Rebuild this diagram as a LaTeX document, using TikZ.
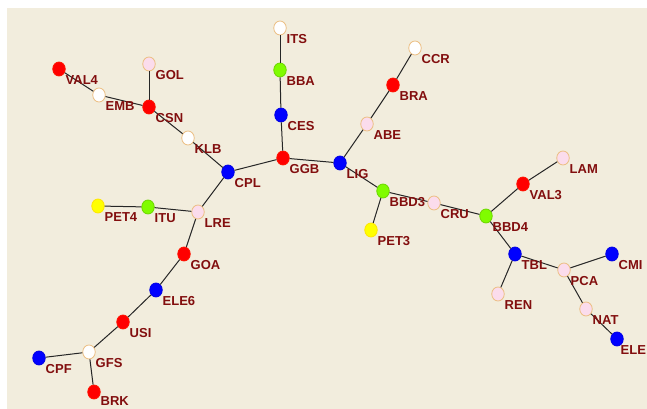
\documentclass[tikz,border=0pt]{standalone}
\usepackage{fontspec}
\setmainfont{Liberation Sans}
\usetikzlibrary{shapes.geometric}
\definecolor{bg}{RGB}{242,237,221}
\definecolor{lblc}{RGB}{130,14,14}
\definecolor{nred}{RGB}{255,0,0}
\definecolor{nblue}{RGB}{0,0,255}
\definecolor{ngreen}{RGB}{128,252,0}
\definecolor{nyellow}{RGB}{255,255,0}
\definecolor{npink}{RGB}{251,220,236}
\definecolor{rim}{RGB}{236,190,130}
\tikzset{
  vtx/.style={ellipse,minimum width=12.5pt,minimum height=14pt,inner sep=0pt,line width=0.8pt},
  vred/.style={vtx,fill=nred,draw=nred!85!orange},
  vblue/.style={vtx,fill=nblue,draw=nblue!90!black},
  vgreen/.style={vtx,fill=ngreen,draw=ngreen!85!black},
  vyellow/.style={vtx,fill=nyellow,draw=nyellow!80!orange},
  vpink/.style={vtx,fill=npink,draw=rim},
  vwhite/.style={vtx,fill=white,draw=rim},
  lbl/.style={anchor=base west,inner sep=0pt,text=lblc,font=\bfseries\fontsize{13}{14}\selectfont},
  edge/.style={draw=black!85,line width=1pt}
}
\begin{document}
\begin{tikzpicture}[x=1pt,y=1pt]
\useasboundingbox (0,0) rectangle (647,409);
\clip (0,0) rectangle (647,409);
\fill[white] (0,0) rectangle (647,409);
\fill[bg] (7,0) rectangle (647,401);
% nodes (y = 409 - pixel row)
\node[vred]    (VAL4) at (59,340) {};
\node[vwhite]  (EMB)  at (99,314) {};
\node[vpink]   (GOL)  at (149,345) {};
\node[vred]    (CSN)  at (149,302) {};
\node[vwhite]  (KLB)  at (188,271) {};
\node[vblue]   (CPL)  at (228,237) {};
\node[vwhite]  (ITS)  at (280,381) {};
\node[vgreen]  (BBA)  at (280,339) {};
\node[vblue]   (CES)  at (281,294) {};
\node[vred]    (GGB)  at (283,251) {};
\node[vwhite]  (CCR)  at (415,361) {};
\node[vred]    (BRA)  at (393,324) {};
\node[vpink]   (ABE)  at (367,285) {};
\node[vblue]   (LIG)  at (340,246) {};
\node[vgreen]  (BBD3) at (383,218) {};
\node[vyellow] (PET3) at (371,179) {};
\node[vpink]   (CRU)  at (434,206) {};
\node[vgreen]  (BBD4) at (486,193) {};
\node[vred]    (VAL3) at (523,225) {};
\node[vpink]   (LAM)  at (563,251) {};
\node[vblue]   (TBL)  at (515,155) {};
\node[vpink]   (REN)  at (498,115) {};
\node[vpink]   (PCA)  at (564,139) {};
\node[vblue]   (CMI)  at (612,155) {};
\node[vpink]   (NAT)  at (586,100) {};
\node[vblue]   (ELE)  at (617,70) {};
\node[vyellow] (PET4) at (98,203) {};
\node[vgreen]  (ITU)  at (148,202) {};
\node[vpink]   (LRE)  at (198,197) {};
\node[vred]    (GOA)  at (184,155) {};
\node[vblue]   (ELE6) at (156,119) {};
\node[vred]    (USI)  at (123,87) {};
\node[vwhite]  (GFS)  at (89,57) {};
\node[vblue]   (CPF)  at (39,51) {};
\node[vred]    (BRK)  at (94,17) {};
% edges
\foreach \a/\b in {VAL4/EMB,EMB/CSN,GOL/CSN,CSN/KLB,KLB/CPL,CPL/GGB,CPL/LRE,
  ITS/BBA,BBA/CES,CES/GGB,GGB/LIG,LIG/ABE,ABE/BRA,BRA/CCR,LIG/BBD3,BBD3/PET3,
  BBD3/CRU,CRU/BBD4,BBD4/VAL3,VAL3/LAM,BBD4/TBL,TBL/REN,TBL/PCA,PCA/CMI,PCA/NAT,
  NAT/ELE,LRE/ITU,ITU/PET4,LRE/GOA,GOA/ELE6,ELE6/USI,USI/GFS,GFS/CPF}
  \draw[edge] (\a) -- (\b);
\draw[edge] (GFS) -- (BRK);
% labels
\foreach \n in {VAL4,EMB,GOL,CSN,KLB,CPL,ITS,BBA,CES,GGB,CCR,BRA,ABE,LIG,BBD3,PET3,
  CRU,BBD4,VAL3,LAM,TBL,REN,PCA,CMI,NAT,PET4,ITU,LRE,GOA,ELE6,USI,GFS,CPF}
  \node[lbl] (\n-l) at ([shift={(6.5,-15.5)}]\n.center) {\n};
\node[lbl] (BRK-l) at ([shift={(6.5,-13.5)}]BRK.center) {BRK};
\node[lbl] (ELE-l) at ([shift={(3.5,-15.5)}]ELE.center) {ELE};
\end{tikzpicture}
\end{document}
